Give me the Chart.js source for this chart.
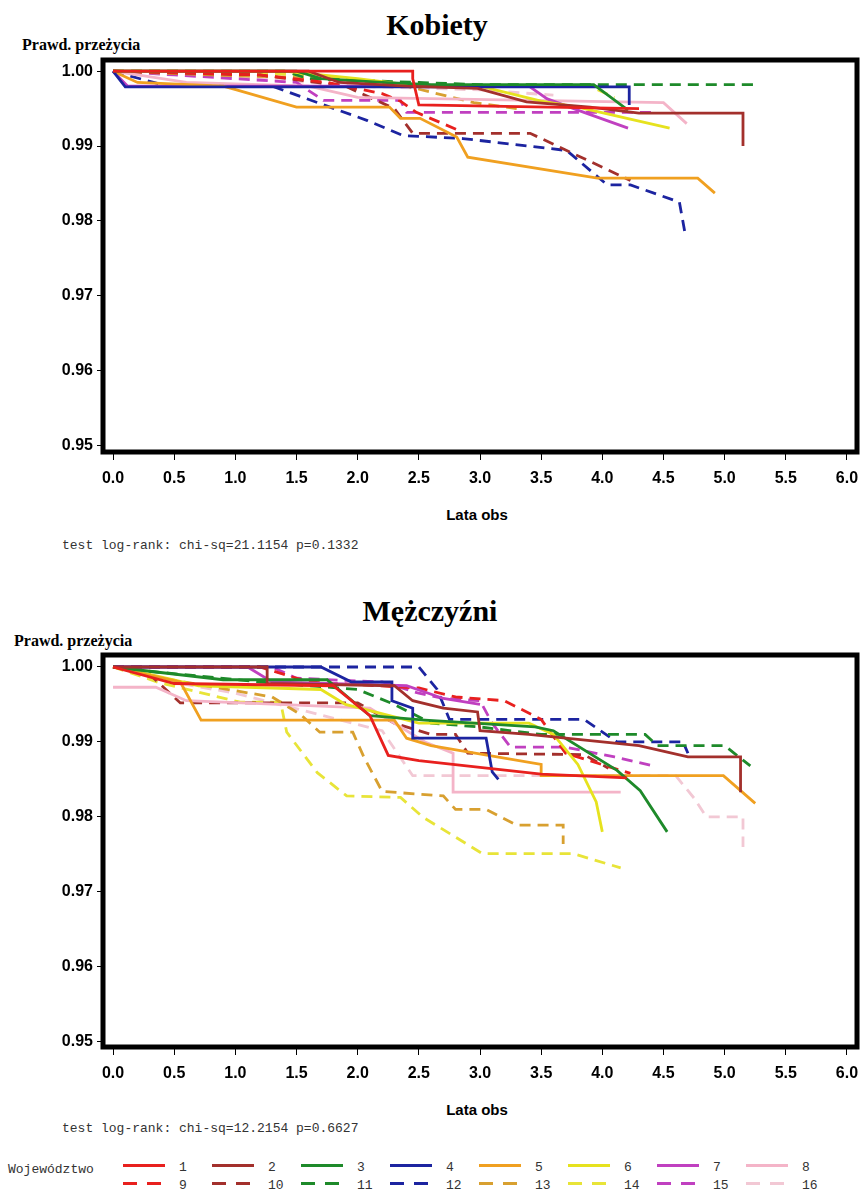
<!DOCTYPE html>
<html>
<head>
<meta charset="utf-8">
<script src="https://cdn.jsdelivr.net/npm/chart.js@4.4.1/dist/chart.umd.min.js"></script>
<style>
  body { margin: 0; background: #fff; }
  #page { position: relative; width: 863px; height: 1191px; overflow: hidden; }
  .txt { position: absolute; white-space: nowrap; color: #000; }
  .ttl { font: bold 30px 'Liberation Serif', 'Times New Roman', serif; transform: translateX(-50%); }
  .ylab { font: bold 16px 'Liberation Serif', 'Times New Roman', serif; }
  .xlab { font: bold 15px 'Liberation Sans Narrow', 'Liberation Sans', Arial, sans-serif; transform: translateX(-50%); }
  .mono { font: 13px 'Liberation Mono', 'Courier New', monospace; color: #333; }
  .cv { position: absolute; left: 0; }
  .leg { position: absolute; width: 42px; height: 3px; }
  .legn { position: absolute; font: 13px 'Liberation Mono', 'Courier New', monospace; color: #333; }
</style>
</head>
<body>
<div id="page">
  <div class="txt ttl" style="left:437px; top:8px;">Kobiety</div>
  <div class="txt ylab" style="left:22px; top:36px;">Prawd. przeżycia</div>
  <div class="cv" style="top:50px; width:863px; height:440px;"><canvas id="kobiety"></canvas></div>
  <div class="txt xlab" style="left:477px; top:506px;">Lata obs</div>
  <div class="txt mono" style="left:62px; top:538px;">test log-rank: chi-sq=21.1154 p=0.1332</div>

  <div class="txt ttl" style="left:430px; top:594px;">Mężczyźni</div>
  <div class="txt ylab" style="left:14px; top:632px;">Prawd. przeżycia</div>
  <div class="cv" style="top:645px; width:863px; height:440px;"><canvas id="mezczyzni"></canvas></div>
  <div class="txt xlab" style="left:477px; top:1101px;">Lata obs</div>
  <div class="txt mono" style="left:62px; top:1121px;">test log-rank: chi-sq=12.2154 p=0.6627</div>

  <div class="txt mono" style="left:8px; top:1162px;">Województwo</div>
  <div id="legend"></div>
</div>

<script>
// tick labels
const xTicks = [0, 0.5, 1, 1.5, 2, 2.5, 3, 3.5, 4, 4.5, 5, 5.5, 6];
const yTicks = [0.95, 0.96, 0.97, 0.98, 0.99, 1.00];
const groups = ['1', '2', '3', '4', '5', '6', '7', '8', '9', '10', '11', '12', '13', '14', '15', '16'];

// Kobiety: [lata obs, prawd. przezycia]
const k1 = [[0,1],[1.85,1],[2.45,1],[2.45,0.999],[2.5,0.9955],[3.2,0.9953],[4.3,0.995]];
const k2 = [[0,1],[1.6,1],[1.85,0.9985],[2.4,0.998],[2.98,0.9977],[3.38,0.9959],[3.9,0.9952],[4.3,0.9944],[5.15,0.9944],[5.15,0.990]];
const k3 = [[0,1],[1.5,1],[1.7,0.999],[2.2,0.9985],[2.6,0.9982],[3.93,0.9982],[4.21,0.9948]];
const k4 = [[0,1],[0.1,0.9979],[4.22,0.9979],[4.22,0.9955]];
const k5 = [[0,1],[0.2,0.9985],[0.9,0.998],[1.01,0.9975],[1.5,0.9952],[2.26,0.9952],[2.35,0.9937],[2.51,0.9937],[2.81,0.9912],[2.9,0.9885],[3.96,0.9857],[4.78,0.9857],[4.92,0.9837]];
const k6 = [[0,1],[1.4,1],[2.0,0.999],[2.5,0.998],[3.0,0.998],[3.5,0.996],[3.8,0.9952],[4.55,0.9924]];
const k7 = [[0,1],[0.12,0.998],[3.4,0.998],[3.55,0.9963],[3.85,0.9945],[4.21,0.9924]];
const k8 = [[0,1],[0.6,0.9985],[1.6,0.998],[2.0,0.9965],[4.5,0.9958],[4.69,0.993]];
const k9 = [[0,1],[1.2,0.9995],[1.75,0.9985],[2.2,0.997],[2.35,0.996],[2.48,0.9945],[2.84,0.992]];
const k10 = [[0,1],[1.2,0.9995],[1.9,0.998],[2.3,0.995],[2.45,0.9917],[3.41,0.9917],[4.23,0.9854]];
const k11 = [[0,1],[1.4,1],[1.6,0.999],[2.5,0.9985],[3.0,0.9982],[5.22,0.9982],[5.22,0.9972]];
const k12 = [[0,1],[0.15,0.9993],[0.45,0.998],[1.3,0.998],[2.08,0.9934],[2.37,0.9914],[2.86,0.991],[3.71,0.9894],[4.04,0.9848],[4.23,0.9848],[4.63,0.9825],[4.68,0.978]];
const k13 = [[0,1],[0.8,0.9995],[1.8,0.999],[2.4,0.998],[2.95,0.9958],[3.3,0.995]];
const k14 = [[0,1],[0.6,1],[1.6,0.9995],[2.2,0.9985],[2.5,0.998],[3.9,0.998],[4.1,0.9965]];
const k15 = [[0,1],[0.5,0.9995],[1.5,0.9985],[1.72,0.9961],[2.35,0.9961],[2.4,0.9945],[4.45,0.9945]];
const k16 = [[0,1],[0.8,0.9995],[2.0,0.998],[3.0,0.9975],[3.6,0.9968]];

// Mezczyzni
const m1 = [[0,1],[0.5,0.9978],[1.8,0.9975],[2.1,0.9935],[2.25,0.9882],[2.5,0.9875],[3.5,0.9857],[4.2,0.9852]];
const m2 = [[0,1],[1.26,1],[1.26,0.9978],[2.3,0.9975],[2.45,0.9955],[2.7,0.9945],[2.98,0.994],[3.0,0.9915],[3.4,0.991],[4.3,0.9895],[4.7,0.988],[5.13,0.988],[5.13,0.9833]];
const m3 = [[0,1],[0.9,0.9983],[1.75,0.9983],[2.1,0.9935],[2.55,0.9929],[3.45,0.992],[3.6,0.9915],[4.12,0.9862],[4.31,0.9835],[4.53,0.978]];
const m4 = [[0,1],[1.7,1],[1.95,0.998],[2.28,0.998],[2.28,0.9955],[2.45,0.9945],[2.45,0.9905],[3.05,0.9905],[3.1,0.986],[3.15,0.985]];
const m5 = [[0,1],[0.55,0.998],[0.72,0.9929],[2.3,0.9929],[2.4,0.9905],[2.6,0.9895],[3.5,0.987],[3.5,0.9855],[4.99,0.9855],[5.25,0.9818]];
const m6 = [[0,1],[0.3,0.999],[0.7,0.9975],[1.7,0.997],[1.9,0.995],[2.5,0.9925],[3.4,0.9925],[3.6,0.991],[3.8,0.987],[3.95,0.982],[4.0,0.978]];
const m7 = [[0,1],[1.1,1],[1.3,0.998],[2.4,0.9975],[2.7,0.9958],[3.0,0.995]];
const m8 = [[0,0.9973],[0.35,0.9973],[0.6,0.9955],[2.1,0.9945],[2.55,0.990],[2.78,0.9885],[2.78,0.9833],[4.15,0.9833]];
const m9 = [[0,1],[1.2,1],[1.6,0.998],[2.5,0.9972],[2.8,0.996],[3.2,0.9955],[3.5,0.993],[3.7,0.9885],[4.23,0.9858]];
const m10 = [[0,1],[0.3,0.999],[0.55,0.9952],[2.0,0.9952],[2.3,0.9925],[2.6,0.991],[2.8,0.991],[2.9,0.9885],[3.85,0.9883],[4.05,0.9865]];
const m11 = [[0,1],[0.25,0.9995],[1.2,0.998],[2.0,0.997],[2.3,0.995],[2.6,0.9925],[3.0,0.992],[3.5,0.991],[4.35,0.991],[4.45,0.9895],[5.0,0.9895],[5.21,0.9868]];
const m12 = [[0,1],[2.5,1],[2.65,0.997],[2.75,0.993],[3.85,0.993],[4.12,0.99],[4.66,0.99],[4.7,0.9885]];
const m13 = [[0,1],[0.4,0.9985],[1.3,0.996],[1.53,0.9937],[1.69,0.9913],[1.96,0.9913],[2.05,0.988],[2.2,0.9834],[2.7,0.9828],[2.8,0.981],[3.05,0.981],[3.3,0.9789],[3.68,0.9789],[3.68,0.9764]];
const m14 = [[0,1],[0.38,0.9979],[1.04,0.9953],[1.37,0.9953],[1.42,0.9913],[1.67,0.9859],[1.91,0.9828],[2.35,0.9826],[2.53,0.98],[3.02,0.9751],[3.76,0.9751],[4.15,0.9732]];
const m15 = [[0,1],[1.3,1],[1.5,0.9985],[2.2,0.998],[2.5,0.9965],[2.7,0.9958],[3.0,0.9955],[3.1,0.9925],[3.25,0.9893],[3.7,0.9893],[4.1,0.988],[4.39,0.9869]];
const m16 = [[0,1],[0.3,0.9985],[1.0,0.9965],[1.6,0.994],[2.2,0.9915],[2.45,0.9855],[4.6,0.9855],[4.75,0.9825],[4.85,0.98],[5.15,0.98],[5.15,0.976]];

const kobiety = [k1, k2, k3, k4, k5, k6, k7, k8, k9, k10, k11, k12, k13, k14, k15, k16];
const mezczyzni = [m1, m2, m3, m4, m5, m6, m7, m8, m9, m10, m11, m12, m13, m14, m15, m16];

const colors = ['#e8201e', '#a3302c', '#1e8a2a', '#1c24a0', '#f0a020', '#e6e21e', '#c040c0', '#f4b4c8',
                '#e8201e', '#a3302c', '#1e8a2a', '#1c24a0', '#d8a030', '#e8e438', '#c040c0', '#f2c8d4'];
const dashes = [[], [11, 7]];

// thick black frame around the plot area
const framePlugin = {
  id: 'frame',
  afterDraw(chart) {
    const { ctx, chartArea: a } = chart;
    ctx.save();
    ctx.strokeStyle = '#000';
    ctx.lineWidth = 5;
    ctx.strokeRect(a.left, a.top, a.right - a.left, a.bottom - a.top);
    ctx.restore();
  }
};

function makeChart(id, series, yMin, yMax) {
  new Chart(document.getElementById(id), {
    type: 'line',
    data: {
      datasets: series.map((s, i) => ({
        label: groups[i],
        data: s,
        borderColor: colors[i],
        borderWidth: 2.8,
        borderDash: dashes[i < 8 ? 0 : 1],
        pointRadius: 0,
        tension: 0,
        fill: false,
      })),
    },
    options: {
      responsive: true,
      maintainAspectRatio: false,
      animation: false,
      layout: { padding: { top: 10, right: 6, left: 0, bottom: 0 } },
      scales: {
        x: {
          type: 'linear',
          min: -0.082,
          max: 6.082,
          afterBuildTicks: (scale) => { scale.ticks = xTicks.map(v => ({ value: v })); },
          afterFit: (scale) => {
            scale.height = 38;
            scale.paddingLeft = 0;
            scale.paddingRight = 0;
          },
          grid: { drawOnChartArea: false, drawTicks: true, tickLength: 8, color: '#000', lineWidth: 1 },
          border: { display: false },
          ticks: {
            padding: 9,
            color: '#000',
            maxRotation: 0,
            font: { family: "'Liberation Sans Narrow', 'Liberation Sans', Arial, sans-serif", size: 16, weight: 'bold' },
            callback: (v) => v.toFixed(1),
          },
        },
        y: {
          min: yMin,
          max: yMax,
          afterBuildTicks: (scale) => { scale.ticks = yTicks.map(v => ({ value: v })); },
          afterFit: (scale) => {
            scale.width = 103;
            scale.paddingTop = 0;
            scale.paddingBottom = 0;
          },
          grid: { drawOnChartArea: false, drawTicks: true, tickLength: 6, color: '#000', lineWidth: 1 },
          border: { display: false },
          ticks: {
            padding: 4,
            color: '#000',
            font: { family: "'Liberation Sans Narrow', 'Liberation Sans', Arial, sans-serif", size: 16, weight: 'bold' },
            callback: (v) => v.toFixed(2),
          },
        },
      },
      plugins: {
        legend: { display: false },
        tooltip: { enabled: false },
      },
    },
    plugins: [framePlugin],
  });
}

makeChart('kobiety', kobiety, 0.9491, 1.0015);
makeChart('mezczyzni', mezczyzni, 0.9493, 1.0016);

// legend: solid groups 1-8 on top row, dashed 9-16 below
const legend = document.getElementById('legend');
groups.forEach((g, i) => {
  const col = i % 8;
  const row = i < 8 ? 0 : 1;
  const x = 123 + col * 89;
  const y = 1164 + row * 18;
  const line = document.createElement('div');
  line.className = 'leg';
  line.style.left = x + 'px';
  line.style.top = y + 'px';
  line.style.background = row
    ? 'repeating-linear-gradient(90deg, ' + colors[i] + ' 0 14px, transparent 14px 24px)'
    : colors[i];
  legend.appendChild(line);
  const lab = document.createElement('div');
  lab.className = 'legn';
  lab.textContent = g;
  lab.style.left = (x + 56) + 'px';
  lab.style.top = (y - 4) + 'px';
  legend.appendChild(lab);
});
</script>
</body>
</html>
